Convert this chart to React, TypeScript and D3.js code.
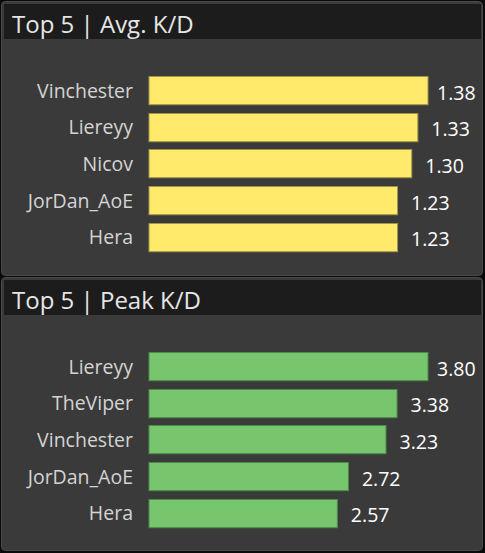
import React from "react";
import * as d3 from "d3";

const W = 485;
const H = 553;

const avgPlayers = ["Vinchester", "Liereyy", "Nicov", "JorDan_AoE", "Hera"];
const avgValues = [1.38, 1.33, 1.3, 1.23, 1.23];
const avgTitle = "Top 5 | Avg. K/D";

const peakPlayers = ["Liereyy", "TheViper", "Vinchester", "JorDan_AoE", "Hera"];
const peakValues = [3.8, 3.38, 3.23, 2.72, 2.57];
const peakTitle = "Top 5 | Peak K/D";

const FONT = "'Open Sans', 'Noto Sans', sans-serif";

type PanelProps = {
  title: string;
  names: string[];
  values: number[];
  fill: string;
  stroke: string;
  offsetY: number;
  height: number;
};

function Panel({ title, names, values, fill, stroke, offsetY, height }: PanelProps) {
  const x0 = 148.5;
  const x = d3
    .scaleLinear()
    .domain([0, d3.max(values) as number])
    .range([x0, x0 + 280]);
  const y = d3
    .scaleBand<string>()
    .domain(names)
    .range([70.8, 70.8 + 183.3])
    .paddingInner(0.23)
    .paddingOuter(0.115);
  const bw = y.bandwidth();
  return (
    <g transform={`translate(0,${offsetY})`}>
      <rect x={1.5} y={0.5} width={481} height={height} rx={4} fill="#3a3a3a" stroke="#4a4a4a" />
      <rect x={4} y={3} width={477} height={35} fill="#1c1c1c" />
      <text x={12} y={31.5} fill="#e6e6e6" fontSize={24} fontFamily={FONT}>
        {title}
      </text>
      {names.map((n, i) => {
        const yy = y(n) as number;
        const end = x(values[i]);
        const lx = Math.min(end + 13, 437);
        return (
          <g key={n + i}>
            <rect
              x={x0 + 0.5}
              y={Math.round(yy) + 0.5}
              width={end - x0 - 1}
              height={bw}
              fill={fill}
              stroke={stroke}
              strokeWidth={1}
            />
            <text
              x={133}
              y={yy + bw / 2 + 7.5}
              textAnchor="end"
              fill="#d4d4d4"
              fontSize={19.5}
              fontFamily={FONT}
            >
              {n}
            </text>
            <text
              x={lx}
              y={yy + bw / 2 + 9.5}
              fill="#ffffff"
              fontSize={19.5}
              fontFamily={FONT}
            >
              {d3.format(".2f")(values[i])}
            </text>
          </g>
        );
      })}
    </g>
  );
}

export default function App() {
  return (
    <svg
      width={W}
      height={H}
      style={{ position: "absolute", left: 0, top: 0, background: "#0a0a0a", display: "block" }}
    >
      <rect x={0} y={0} width={W} height={H} fill="#0a0a0a" />
      <Panel
        title={avgTitle}
        names={avgPlayers}
        values={avgValues}
        fill="#ffea6b"
        stroke="#9f9645"
        offsetY={1}
        height={274}
      />
      <Panel
        title={peakTitle}
        names={peakPlayers}
        values={peakValues}
        fill="#77c66e"
        stroke="#4c8a47"
        offsetY={277}
        height={273}
      />
    </svg>
  );
}
